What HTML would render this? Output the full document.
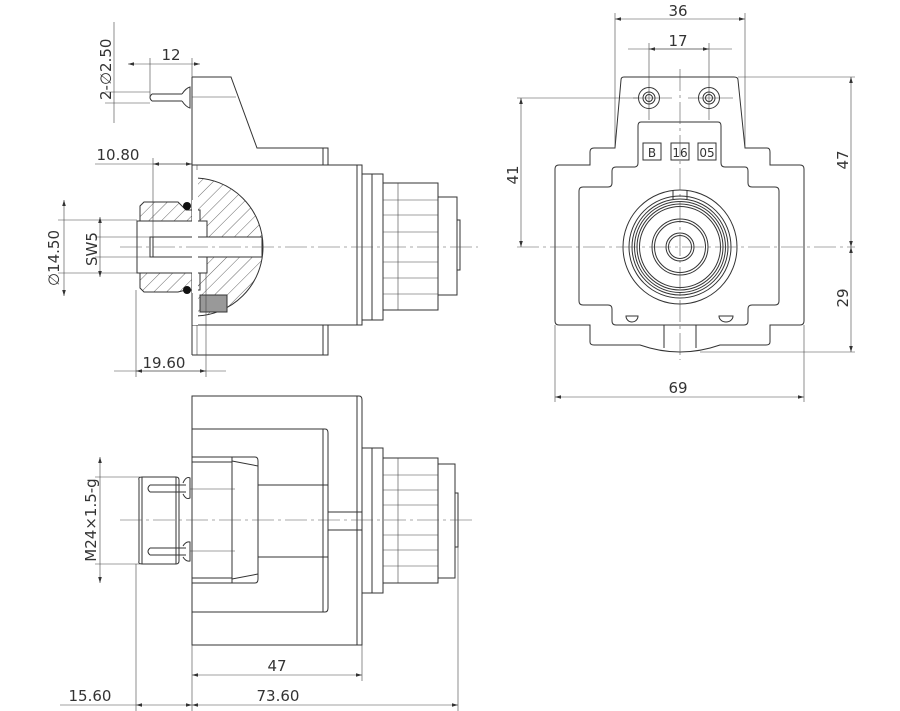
<!DOCTYPE html>
<html><head><meta charset="utf-8"><style>
html,body{margin:0;padding:0;background:#fff;width:900px;height:711px;overflow:hidden}
svg{display:block}
text{font-family:"DejaVu Sans","Liberation Sans",sans-serif;font-size:15px;fill:#333}
.l{stroke:#333;stroke-width:1;fill:none}
.t{stroke:#444;stroke-width:0.6;fill:none}
.c{stroke:#555;stroke-width:0.6;fill:none;stroke-dasharray:22 4 3 4}
</style></head><body>
<svg width="900" height="711" viewBox="0 0 900 711" xmlns="http://www.w3.org/2000/svg">
<defs>
<marker id="a" viewBox="0 0 10 6" refX="10" refY="3" markerWidth="10" markerHeight="6" orient="auto-start-reverse"><path d="M0,0 L10,3 L0,6 z" fill="#333"/></marker>
<pattern id="h" width="9" height="9" patternUnits="userSpaceOnUse" patternTransform="rotate(45)"><line x1="0" y1="0" x2="0" y2="9" stroke="#444" stroke-width="0.8"/></pattern>
<clipPath id="dc"><rect x="198" y="170" width="80" height="160"/></clipPath>
</defs>

<!-- ===== TOP-LEFT VIEW ===== -->
<g class="l">
<path d="M192,77 H231 L257,148 H328 V165 H192"/>
<line x1="192" y1="77" x2="192" y2="355"/>
<rect x="192" y="165" width="170" height="160"/>
<path d="M192,325 H328 V355 H192"/>
<line x1="323" y1="148" x2="323" y2="165"/><line x1="323" y1="325" x2="323" y2="355"/>
<line x1="357" y1="165" x2="357" y2="325"/>
<rect x="362" y="174" width="21" height="146"/>
<line x1="372" y1="174" x2="372" y2="320"/>
<rect x="383" y="183" width="55" height="127"/>
<rect x="438" y="197" width="19" height="98"/>
<rect x="457" y="220" width="3" height="50"/>
</g>
<g class="t">
<line x1="398" y1="183" x2="398" y2="310"/>
<line x1="383" y1="200" x2="438" y2="200"/><line x1="383" y1="215" x2="438" y2="215"/><line x1="383" y1="232" x2="438" y2="232"/>
<line x1="383" y1="262" x2="438" y2="262"/><line x1="383" y1="278" x2="438" y2="278"/><line x1="383" y1="294" x2="438" y2="294"/>
<line x1="197" y1="165" x2="197" y2="355"/>
</g>
<!-- pin -->
<g class="l">
<path d="M152,94 H182 M152,101 H182 M152,94 Q148,97.5 152,101"/>
<path d="M182,94 Q186,88 190,87 V108 Q186,107 182,101"/>
</g>
<line class="t" x1="192" y1="97" x2="236" y2="97"/>
<!-- section -->
<g>
<path d="M140,206 L144,202 H178 L186,210 H200 V290 H186 L178,292 H144 L140,288 Z" fill="url(#h)" stroke="#333"/>
<circle cx="194" cy="247" r="69" fill="url(#h)" stroke="#333" clip-path="url(#dc)"/>
<rect x="137" y="221" width="70" height="52" fill="#fff" stroke="#333"/>
<rect x="150" y="237" width="112" height="20" fill="#fff" stroke="#333"/>
<line class="l" x1="153" y1="237" x2="153" y2="257" stroke-width="2"/>
<rect x="200" y="295" width="27" height="17" fill="#999" stroke="#333"/>
<circle cx="187" cy="206" r="4" fill="#111"/><circle cx="187" cy="290" r="4" fill="#111"/>
<rect x="192" y="170" width="6" height="155" fill="#fff" stroke="none"/>
<line class="l" x1="192" y1="165" x2="192" y2="200"/><line class="l" x1="192" y1="293" x2="192" y2="325"/>
</g>
<line class="c" x1="120" y1="247" x2="478" y2="247"/>
<!-- dims top-left -->
<g class="t">
<line x1="114" y1="22" x2="114" y2="123"/>
<line x1="105" y1="92" x2="150" y2="92"/><line x1="105" y1="103" x2="150" y2="103"/>
<line x1="150" y1="58" x2="150" y2="97"/><line x1="192" y1="58" x2="192" y2="77"/>
<line x1="128" y1="64" x2="200" y2="64" marker-start="url(#a)" marker-end="url(#a)"/>
<line x1="153" y1="158" x2="153" y2="240"/>
<line x1="95" y1="164" x2="192" y2="164"/>
<line x1="153" y1="164" x2="192" y2="164" marker-start="url(#a)" marker-end="url(#a)"/>
<line x1="64" y1="200" x2="64" y2="296" marker-start="url(#a)" marker-end="url(#a)"/>
<line x1="58" y1="220" x2="137" y2="220"/><line x1="58" y1="273" x2="137" y2="273"/>
<line x1="100" y1="217" x2="100" y2="277" marker-start="url(#a)" marker-end="url(#a)"/>
<line x1="95" y1="237" x2="150" y2="237"/><line x1="95" y1="257" x2="150" y2="257"/>
<line x1="136" y1="290" x2="136" y2="377"/><line x1="206" y1="273" x2="206" y2="377"/>
<line x1="114" y1="371" x2="226" y2="371"/>
<line x1="136" y1="371" x2="206" y2="371" marker-start="url(#a)" marker-end="url(#a)"/>
</g>
<text x="171" y="60" text-anchor="middle">12</text>
<text x="118" y="160" text-anchor="middle">10.80</text>
<text x="164" y="368" text-anchor="middle">19.60</text>
<text transform="translate(111,100) rotate(-90)">2-∅2.50</text>
<text transform="translate(59,286) rotate(-90)">∅14.50</text>
<text transform="translate(97,266) rotate(-90)">SW5</text>

<!-- ===== RIGHT VIEW ===== -->
<g class="l">
<path d="M624,77 H734 Q738,77 738,80 L745,148 H767 Q770,148 770,152 V165 H800 Q804,165 804,169 V321 Q804,325 800,325 H770 V342 Q770,345 766,345 H720 Q700,352 680,352 Q660,352 640,345 H594 Q590,345 590,342 V325 H559 Q555,325 555,321 V169 Q555,165 559,165 H590 V152 Q590,148 594,148 H615 L621,80 Q621,77 624,77 Z"/>
<path d="M641,122 H718 Q721,122 721,126 V163 Q721,167 725,167 H745 Q748,167 748,171 V183 Q748,187 752,187 H775 Q779,187 779,191 V301 Q779,305 775,305 H752 Q748,305 748,309 V321 Q748,325 744,325 H616 Q612,325 612,321 V309 Q612,305 608,305 H583 Q579,305 579,301 V191 Q579,187 583,187 H608 Q612,187 612,183 V171 Q612,167 616,167 H634 Q638,167 638,163 V126 Q638,122 641,122 Z"/>
<path d="M664,325 V348 M696,325 V348"/>
<circle cx="680" cy="247" r="57"/>
<circle cx="680" cy="247" r="51"/><circle cx="680" cy="247" r="48"/><circle cx="680" cy="247" r="45.5"/><circle cx="680" cy="247" r="43"/><circle cx="680" cy="247" r="40.5"/>
<circle cx="680" cy="247" r="28"/><circle cx="680" cy="247" r="25.5"/>
<circle cx="680" cy="247" r="14"/><circle cx="680" cy="247" r="11.5"/>
<path d="M673,190 V199 M687,190 V199"/>
<circle cx="649" cy="98" r="10.5"/><circle cx="649" cy="98" r="6"/><circle cx="649" cy="98" r="3.5"/>
<circle cx="709" cy="98" r="10.5"/><circle cx="709" cy="98" r="6"/><circle cx="709" cy="98" r="3.5"/>
<path d="M626,316 H638 A6,6 0 0 1 626,316 Z"/>
<path d="M719,316 H733 A7,6 0 0 1 719,316 Z"/>
<rect x="643" y="143" width="18" height="17"/>
<rect x="671" y="143" width="18" height="17"/>
<rect x="698" y="143" width="18" height="17"/>
</g>
<text x="652" y="157" text-anchor="middle" style="font-size:12px">B</text>
<text x="680" y="157" text-anchor="middle" style="font-size:12px">16</text>
<text x="707" y="157" text-anchor="middle" style="font-size:12px">05</text>
<line class="c" x1="517" y1="247" x2="855" y2="247"/>
<line class="c" x1="680" y1="69" x2="680" y2="360"/>
<line class="t" x1="633" y1="98" x2="672" y2="98"/><line class="t" x1="688" y1="98" x2="733" y2="98"/>
<g class="t">
<line x1="615" y1="13" x2="615" y2="148"/><line x1="745" y1="13" x2="745" y2="148"/>
<line x1="615" y1="19" x2="745" y2="19" marker-start="url(#a)" marker-end="url(#a)"/>
<line x1="649" y1="43" x2="649" y2="120"/><line x1="709" y1="43" x2="709" y2="120"/>
<line x1="628" y1="49" x2="732" y2="49"/>
<line x1="649" y1="49" x2="709" y2="49" marker-start="url(#a)" marker-end="url(#a)"/>
<line x1="517" y1="98" x2="638" y2="98"/>
<line x1="521" y1="98" x2="521" y2="247" marker-start="url(#a)" marker-end="url(#a)"/>
<line x1="738" y1="77" x2="855" y2="77"/>
<line x1="851" y1="77" x2="851" y2="247" marker-start="url(#a)" marker-end="url(#a)"/>
<line x1="700" y1="352" x2="855" y2="352"/>
<line x1="851" y1="247" x2="851" y2="352" marker-start="url(#a)" marker-end="url(#a)"/>
<line x1="555" y1="325" x2="555" y2="402"/><line x1="804" y1="325" x2="804" y2="402"/>
<line x1="555" y1="397" x2="804" y2="397" marker-start="url(#a)" marker-end="url(#a)"/>
</g>
<text x="678" y="16" text-anchor="middle">36</text>
<text x="678" y="46" text-anchor="middle">17</text>
<text x="678" y="393" text-anchor="middle">69</text>
<text transform="translate(518,175) rotate(-90)" text-anchor="middle">41</text>
<text transform="translate(848,160) rotate(-90)" text-anchor="middle">47</text>
<text transform="translate(848,298) rotate(-90)" text-anchor="middle">29</text>

<!-- ===== BOTTOM VIEW ===== -->
<g class="l">
<path d="M192,396 H359 Q362,396 362,400 V645 H192 Z"/>
<line x1="357" y1="396" x2="357" y2="645"/>
<path d="M192,429 H325 Q328,429 328,433 V608 Q328,612 325,612 H192"/>
<line x1="323" y1="429" x2="323" y2="612"/>
<path d="M192,457 H255 Q258,457 258,461 V579 Q258,583 255,583 H192"/>
<path d="M232,457 L232,583 M232,461 L258,466 M232,579 L258,574"/>
<path d="M192,462 H232 M192,578 H232"/>
<path d="M258,485 H328 M258,557 H328"/>
<path d="M328,512 H362 M328,530 H362"/>
<rect x="362" y="448" width="21" height="145"/>
<line x1="372" y1="448" x2="372" y2="593"/>
<rect x="383" y="458" width="55" height="125"/>
<rect x="438" y="464" width="17" height="114"/>
<rect x="455" y="493" width="3" height="54"/>
<path d="M139,480 Q138,477 142,477 H176 Q179,477 179,480 V561 Q179,564 176,564 H142 Q138,564 139,561 Z"/>
<line x1="142" y1="477" x2="142" y2="564"/><line x1="176" y1="477" x2="176" y2="564"/>
<path d="M150,485 H186 M150,492 H186 M150,485 Q146,488.5 150,492"/>
<path d="M150,548 H186 M150,555 H186 M150,548 Q146,551.5 150,555"/>
<path d="M183,483 Q186,476 190,478 V498 Q186,500 183,494"/>
<path d="M183,546 Q186,541 190,542 V561 Q186,562 183,557"/>
</g>
<g class="t">
<line x1="398" y1="458" x2="398" y2="583"/>
<line x1="383" y1="475" x2="438" y2="475"/><line x1="383" y1="490" x2="438" y2="490"/><line x1="383" y1="505" x2="438" y2="505"/>
<line x1="383" y1="535" x2="438" y2="535"/><line x1="383" y1="550" x2="438" y2="550"/><line x1="383" y1="566" x2="438" y2="566"/>
<line x1="190" y1="489" x2="235" y2="489"/><line x1="190" y1="551" x2="235" y2="551"/>
</g>
<line class="c" x1="120" y1="520" x2="475" y2="520"/>
<g class="t">
<line x1="100" y1="457" x2="100" y2="583" marker-start="url(#a)" marker-end="url(#a)"/>
<line x1="95" y1="477" x2="140" y2="477"/><line x1="95" y1="564" x2="140" y2="564"/>
<line x1="136" y1="564" x2="136" y2="711"/>
<line x1="192" y1="645" x2="192" y2="711"/>
<line x1="362" y1="645" x2="362" y2="681"/>
<line x1="458" y1="547" x2="458" y2="711"/>
<line x1="192" y1="675" x2="362" y2="675" marker-start="url(#a)" marker-end="url(#a)"/>
<line x1="60" y1="705" x2="136" y2="705"/>
<line x1="136" y1="705" x2="192" y2="705" marker-start="url(#a)" marker-end="url(#a)"/>
<line x1="192" y1="705" x2="458" y2="705" marker-start="url(#a)" marker-end="url(#a)"/>
</g>
<text transform="translate(96,520) rotate(-90)" text-anchor="middle">M24×1.5-g</text>
<text x="277" y="671" text-anchor="middle">47</text>
<text x="90" y="701" text-anchor="middle">15.60</text>
<text x="278" y="701" text-anchor="middle">73.60</text>
</svg>
</body></html>
